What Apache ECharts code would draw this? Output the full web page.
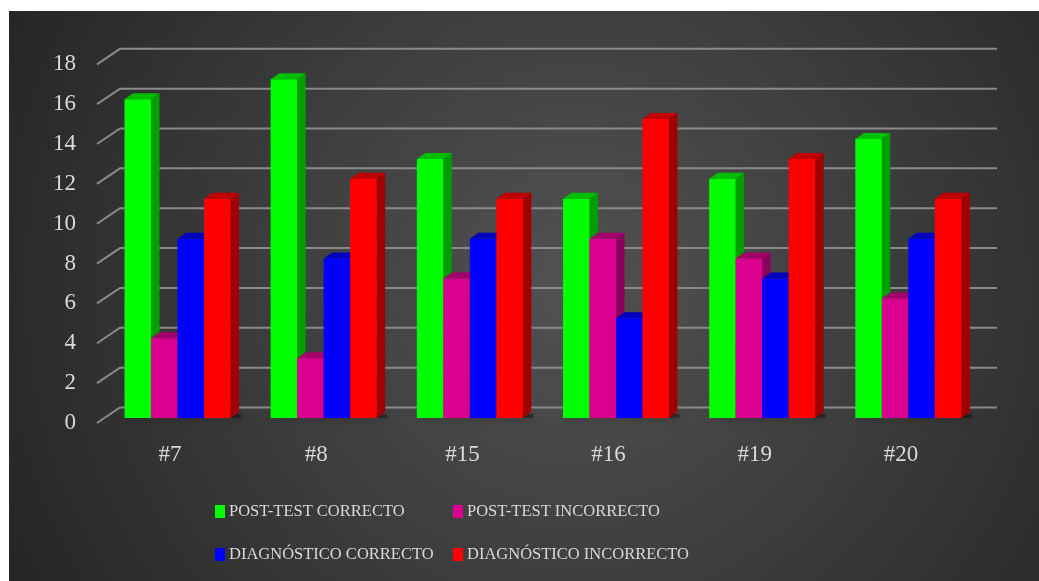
<!DOCTYPE html>
<html>
<head>
<meta charset="utf-8">
<script src="https://cdn.jsdelivr.net/npm/echarts@6/dist/echarts.min.js"></script>
<style>
html,body{margin:0;padding:0;background:#ffffff;}
#main{width:1039px;height:581px;}
</style>
</head>
<body>
<div id="main"></div>
<script>
// ---- data ----
const categories = ['#7', '#8', '#15', '#16', '#19', '#20'];
const postTestCorrecto = [16, 17, 13, 11, 12, 14];
const postTestIncorrecto = [4, 3, 7, 9, 8, 6];
const diagnosticoCorrecto = [9, 8, 9, 5, 7, 9];
const diagnosticoIncorrecto = [11, 12, 11, 15, 13, 11];
const seriesNames = ['POST-TEST CORRECTO', 'POST-TEST INCORRECTO', 'DIAGNÓSTICO CORRECTO', 'DIAGNÓSTICO INCORRECTO'];
const yTicks = [0, 2, 4, 6, 8, 10, 12, 14, 16, 18];

// ---- style ----
const FONT = "'Liberation Serif', 'DejaVu Serif', serif";
const TEXT = '#d9d9d9';
const faces = [
  { front: '#00ff00', side: '#009e00', top: '#00bf00' },
  { front: '#da0090', side: '#8c005e', top: '#a3006c' },
  { front: '#0000ff', side: '#00009e', top: '#0000bf' },
  { front: '#ff0000', side: '#a00000', top: '#c00000' }
];
const DX = 8.5, DY = -6;           // bar depth projection
const FX = -7.4, FY = 5;            // front plane offset from bar plane
const BX = 15.6, BY = -10.5;        // back plane offset from bar plane

const allSeries = [postTestCorrecto, postTestIncorrecto, diagnosticoCorrecto, diagnosticoIncorrecto];

function barRender(k) {
  return function (params, api) {
    const ci = api.value(0), v = api.value(1);
    const base = api.coord([ci, 0]);
    const top = api.coord([ci, v]);
    const band = api.size([1, 0])[0];
    const w = band * 0.1813;
    const x = base[0] - 2 * w + k * w;
    const f = faces[k];
    return {
      type: 'group',
      children: [
        { type: 'polygon', shape: { points: [[x + w, top[1]], [x + w + DX, top[1] + DY], [x + w + DX, base[1] + DY], [x + w, base[1]]] }, style: { fill: f.side } },
        { type: 'polygon', shape: { points: [[x, top[1]], [x + w, top[1]], [x + w + DX, top[1] + DY], [x + DX, top[1] + DY]] }, style: { fill: f.top } },
        { type: 'rect', shape: { x: x, y: top[1], width: w, height: base[1] - top[1] }, style: { fill: f.front } }
      ]
    };
  };
}

const barSeries = allSeries.map((arr, k) => ({
  type: 'custom',
  name: seriesNames[k],
  xAxisIndex: 0, yAxisIndex: 0,
  z: 5,
  itemStyle: { color: faces[k].front },
  renderItem: barRender(k),
  data: arr.map((v, i) => [i, v])
}));

const gridSeries = {
  type: 'custom',
  xAxisIndex: 0, yAxisIndex: 0,
  z: 1, silent: true,
  renderItem: function (params, api) {
    const v = api.value(1);
    const p = api.coord([0, v]);
    const x0 = params.coordSys.x, x1 = params.coordSys.x + params.coordSys.width;
    return {
      type: 'polyline',
      shape: { points: [[x0 + FX, p[1] + FY], [x0 + BX, p[1] + BY], [x1 + BX, p[1] + BY]] },
      style: { stroke: '#8a8a8a', lineWidth: 2, fill: null }
    };
  },
  data: yTicks.map(v => [0, v])
};

const shadowSeries = {
  type: 'custom',
  xAxisIndex: 0, yAxisIndex: 0,
  z: 3, silent: true,
  renderItem: function (params, api) {
    const ci = api.value(0);
    const base = api.coord([ci, 0]);
    const band = api.size([1, 0])[0];
    const w = band * 0.1813;
    const x = base[0] - 2 * w;
    return {
      type: 'rect',
      shape: { x: x + 4, y: base[1] - 4, width: 4 * w + DX - 2, height: 4 },
      style: { fill: 'rgba(0,0,0,0.35)', shadowBlur: 8, shadowColor: 'rgba(0,0,0,0.7)', shadowOffsetY: 2 }
    };
  },
  data: categories.map((c, i) => [i, 0])
};

const legendPos = [
  { left: 215, top: 503 },
  { left: 453, top: 503 },
  { left: 215, top: 546 },
  { left: 453, top: 546 }
];

const chart = echarts.init(document.getElementById('main'), null, { renderer: 'canvas' });
const option = {
  animation: false,
  backgroundColor: 'transparent',
  graphic: {
    elements: [{
      type: 'rect', left: 9, top: 11, z: -100, silent: true,
      shape: { width: 1030, height: 570 },
      style: {
        fill: new echarts.graphic.RadialGradient(0.55, 0.48, 1.1, [
          { offset: 0, color: '#525252' },
          { offset: 0.45, color: '#3f3f3f' },
          { offset: 1, color: '#262626' }
        ])
      }
    }]
  },
  legend: seriesNames.map((n, k) => ({
    data: [n],
    left: legendPos[k].left, top: legendPos[k].top,
    padding: 0, itemWidth: 10, itemHeight: 13, itemGap: 0,
    icon: 'rect', selectedMode: false,
    textStyle: { color: TEXT, fontFamily: FONT, fontSize: 16.5, padding: [0, 0, 0, -1] }
  })),
  grid: [
    { left: 104.4, right: 57.6, top: 59.3, bottom: 163 },   // bar plane
    { left: 97, right: 65, top: 64.3, bottom: 158 }         // front plane (labels)
  ],
  xAxis: [
    { type: 'category', gridIndex: 0, data: categories, show: false },
    {
      type: 'category', gridIndex: 1, data: categories,
      axisLine: { show: false }, axisTick: { show: false }, splitLine: { show: false },
      axisLabel: { color: TEXT, fontFamily: FONT, fontSize: 23, margin: 20 }
    }
  ],
  yAxis: [
    { type: 'value', gridIndex: 0, min: 0, max: 18, interval: 2, show: false },
    {
      type: 'value', gridIndex: 1, min: 0, max: 18, interval: 2,
      axisLine: { show: false }, axisTick: { show: false }, splitLine: { show: false },
      axisLabel: { color: TEXT, fontFamily: FONT, fontSize: 23, margin: 21 }
    }
  ],
  series: [gridSeries, shadowSeries].concat(barSeries)
};
chart.setOption(option);
</script>
</body>
</html>
